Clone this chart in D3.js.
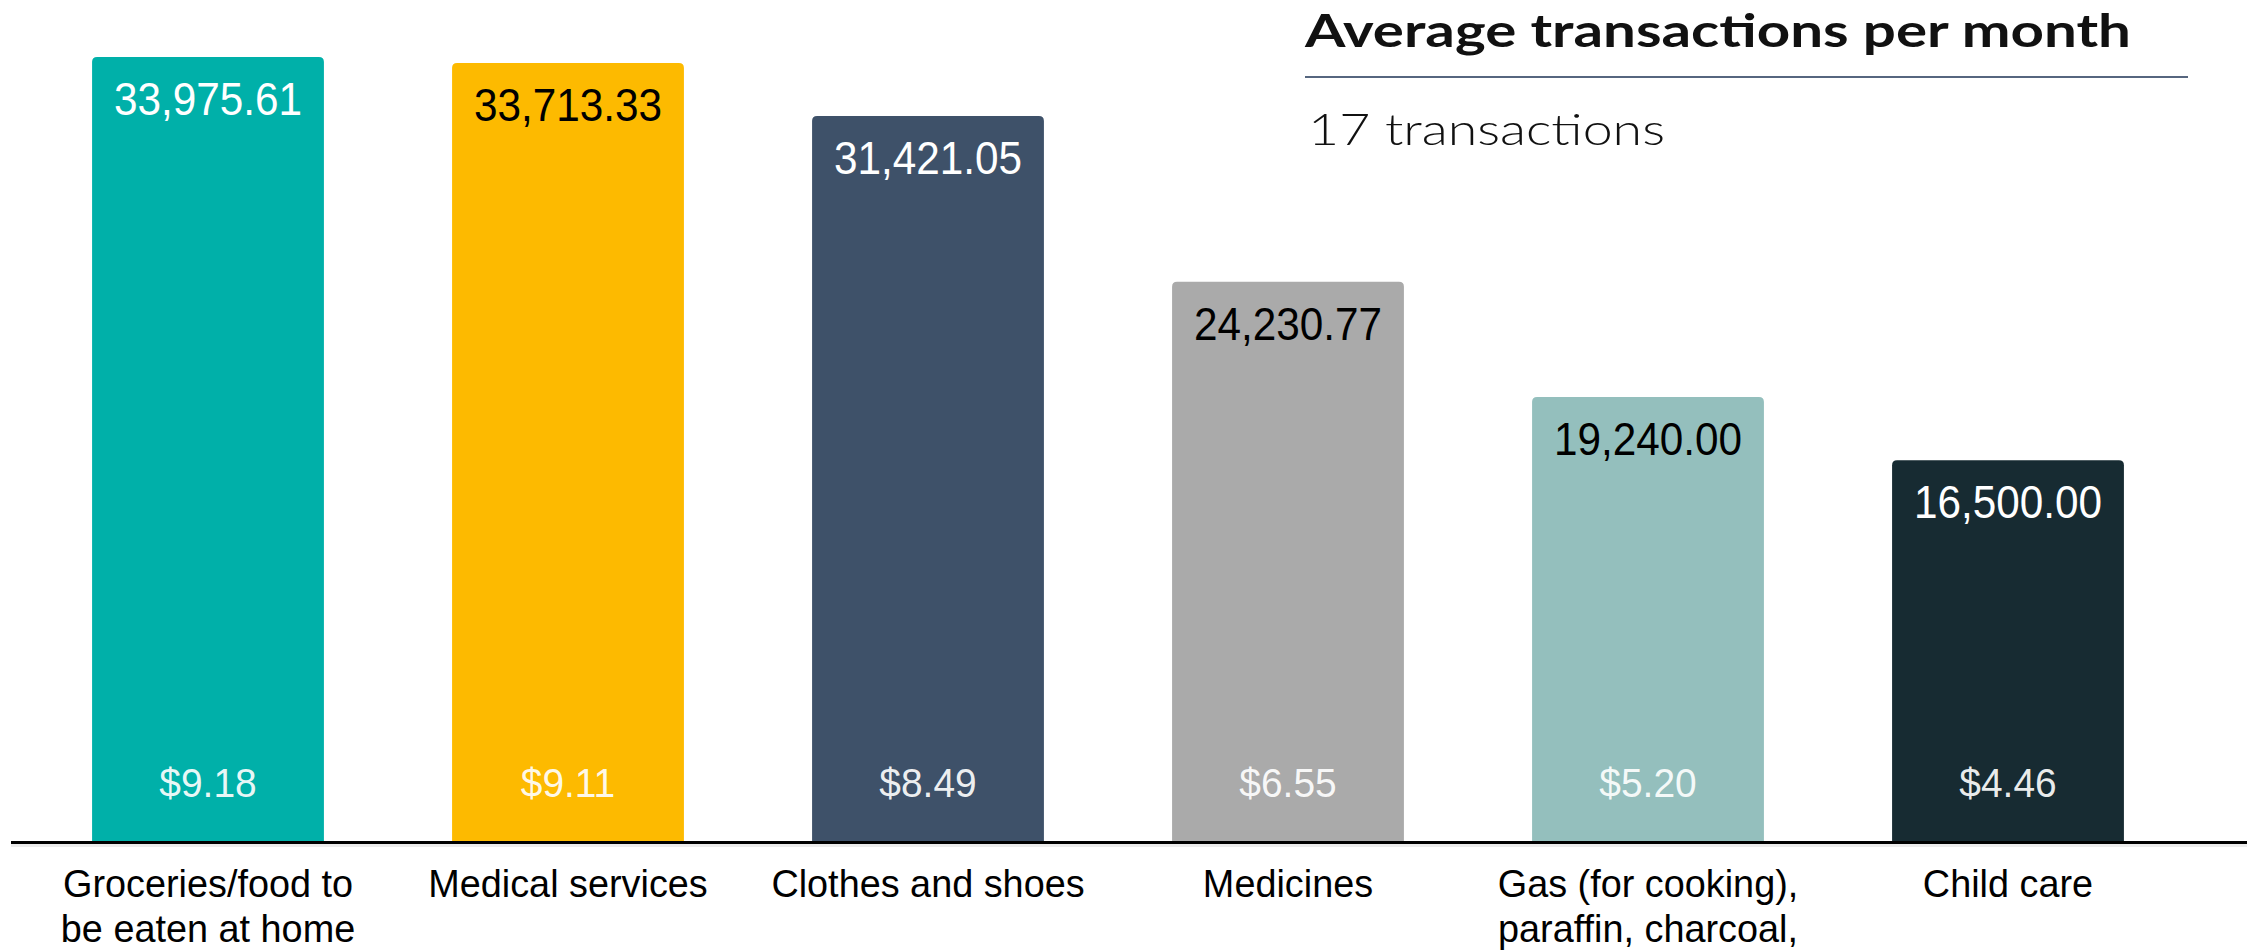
<!DOCTYPE html>
<html>
<head>
<meta charset="utf-8">
<script src="https://cdn.jsdelivr.net/npm/d3@7"></script>
<style>
  html, body { margin: 0; padding: 0; background: #fff; }
  svg { display: block; }
</style>
</head>
<body>
<svg id="chart" width="2247" height="951"></svg>
<script>
// Spending categories, annual totals and average transaction size
const categories = [
  "Groceries/food to be eaten at home",
  "Medical services",
  "Clothes and shoes",
  "Medicines",
  "Gas (for cooking), paraffin, charcoal,",
  "Child care"
];
const categoryLines = [
  ["Groceries/food to", "be eaten at home"],
  ["Medical services"],
  ["Clothes and shoes"],
  ["Medicines"],
  ["Gas (for cooking),", "paraffin, charcoal,"],
  ["Child care"]
];
const totals = [33975.61, 33713.33, 31421.05, 24230.77, 19240.00, 16500.00];
const avgTransaction = [9.18, 9.11, 8.49, 6.55, 5.20, 4.46];
const barColors = ["#00B0A9", "#FDBA00", "#3E5169", "#AAAAAA", "#94BFBD", "#172B32"];
const totalLabelColors = ["#ffffff", "#000000", "#ffffff", "#000000", "#000000", "#ffffff"];
const titleText = "Average transactions per month";
const subtitleText = "17 transactions";

const svg = d3.select("#chart");
const W = 2247, H = 951;
const baseY = 841;

const x = d3.scaleBand()
  .domain(categories)
  .range([28, 2188])
  .paddingInner(0.356)
  .paddingOuter(0.178);

const y = d3.scaleLinear()
  .domain([0, d3.max(totals)])
  .range([baseY, 57]);

const fmtTotal = d3.format(",.2f");
const fmtAvg = d3.format("$.2f");
const sansFamily = "Liberation Sans, Arial, sans-serif";

// Bars with slightly rounded top corners
function barPath(x0, y0, w, h, r) {
  return `M${x0},${y0 + h}V${y0 + r}Q${x0},${y0} ${x0 + r},${y0}` +
         `H${x0 + w - r}Q${x0 + w},${y0} ${x0 + w},${y0 + r}V${y0 + h}Z`;
}

const data = categories.map((c, i) => ({
  cat: c, total: totals[i], avg: avgTransaction[i],
  color: barColors[i], labelColor: totalLabelColors[i], lines: categoryLines[i]
}));

const bars = svg.append("g").selectAll("g.bar").data(data).join("g").attr("class", "bar");

bars.append("path")
  .attr("d", d => barPath(x(d.cat), y(d.total), x.bandwidth(), baseY - y(d.total), 5))
  .attr("fill", d => d.color);

// Total value labels near bar tops
bars.append("text")
  .attr("transform", d => `translate(${x(d.cat) + x.bandwidth() / 2},${y(d.total) + 58}) scale(0.92,1)`)
  .attr("text-anchor", "middle")
  .attr("font-family", sansFamily)
  .attr("font-size", 46)
  .attr("fill", d => d.labelColor)
  .text(d => fmtTotal(d.total));

// Average transaction labels at bar bottoms
bars.append("text")
  .attr("transform", d => `translate(${x(d.cat) + x.bandwidth() / 2},797) scale(0.95,1)`)
  .attr("text-anchor", "middle")
  .attr("font-family", sansFamily)
  .attr("font-size", 41)
  .attr("fill", "#ffffff")
  .attr("fill-opacity", 0.92)
  .text(d => fmtAvg(d.avg));

// Baseline
svg.append("line")
  .attr("x1", 11).attr("x2", W)
  .attr("y1", baseY + 4).attr("y2", baseY + 4)
  .attr("stroke", "#ececec").attr("stroke-width", 4);
svg.append("line")
  .attr("x1", 11).attr("x2", W)
  .attr("y1", baseY + 1.5).attr("y2", baseY + 1.5)
  .attr("stroke", "#000").attr("stroke-width", 3);

// Category labels, wrapped onto lines
const catText = svg.append("g").selectAll("text.cat").data(data).join("text")
  .attr("class", "cat")
  .attr("transform", d => `translate(${x(d.cat) + x.bandwidth() / 2},897) scale(0.97,1)`)
  .attr("text-anchor", "middle")
  .attr("font-family", sansFamily)
  .attr("font-size", 39)
  .attr("fill", "#000");
catText.selectAll("tspan")
  .data(d => d.lines)
  .join("tspan")
  .attr("x", 0)
  .attr("dy", (ln, k) => k === 0 ? 0 : 45)
  .text(ln => ln);

// Title block
svg.append("text")
  .attr("x", 1305).attr("y", 47)
  .attr("font-family", "Lato, 'DejaVu Sans', sans-serif")
  .attr("font-weight", "bold")
  .attr("font-size", 46)
  .attr("textLength", 826)
  .attr("lengthAdjust", "spacingAndGlyphs")
  .attr("fill", "#111")
  .text(titleText);

svg.append("line")
  .attr("x1", 1305).attr("x2", 2188)
  .attr("y1", 77).attr("y2", 77)
  .attr("stroke", "#56667f").attr("stroke-width", 2);

svg.append("text")
  .attr("x", 1308).attr("y", 145)
  .attr("font-family", "Lato, 'DejaVu Sans', sans-serif")
  .attr("font-weight", 300)
  .attr("font-size", 44)
  .attr("textLength", 357)
  .attr("lengthAdjust", "spacingAndGlyphs")
  .attr("fill", "#111")
  .text(subtitleText);
</script>
</body>
</html>
